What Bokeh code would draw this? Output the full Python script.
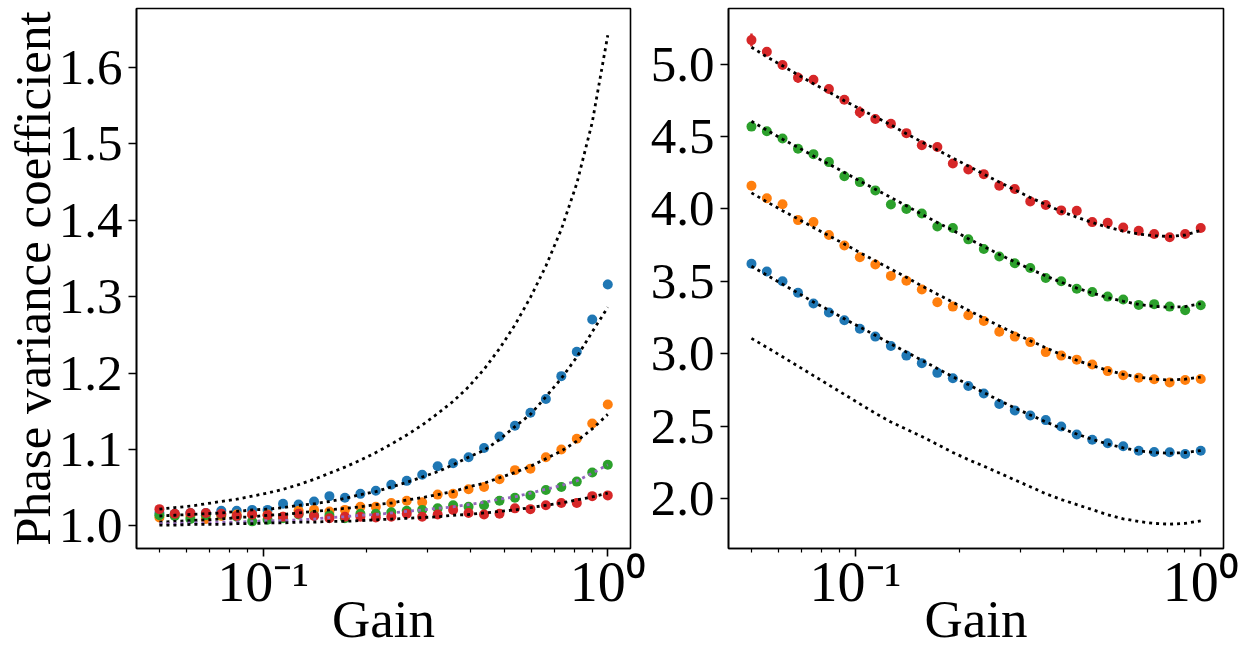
from bokeh.plotting import figure
from bokeh.layouts import row
from bokeh.models import Range1d, FixedTicker, PrintfTickFormatter
from bokeh.embed import file_html
from bokeh.resources import INLINE

# ---------------- data ----------------
gain = [0.0500, 0.0554, 0.0615, 0.0682, 0.0756, 0.0838, 0.0929, 0.1030, 0.1142, 0.1267,
        0.1405, 0.1557, 0.1727, 0.1915, 0.2123, 0.2354, 0.2610, 0.2894, 0.3209, 0.3558,
        0.3945, 0.4375, 0.4851, 0.5378, 0.5964, 0.6613, 0.7332, 0.8130, 0.9014, 1.0000]

# left panel
left_theory_top = [1.022, 1.024, 1.026, 1.029, 1.032, 1.035, 1.039, 1.043, 1.048, 1.054,
                   1.061, 1.069, 1.077, 1.086, 1.096, 1.107, 1.119, 1.132, 1.147, 1.163,
                   1.182, 1.205, 1.232, 1.263, 1.299, 1.340, 1.388, 1.448, 1.528, 1.642]
left_blue = [1.017, 1.016, 1.017, 1.017, 1.020, 1.020, 1.021, 1.021, 1.029, 1.028,
             1.032, 1.039, 1.037, 1.042, 1.046, 1.054, 1.059, 1.067, 1.078, 1.082,
             1.090, 1.102, 1.117, 1.131, 1.148, 1.166, 1.196, 1.228, 1.270, 1.316]
left_blue_theory = [1.013, 1.014, 1.015, 1.016, 1.017, 1.019, 1.021, 1.022, 1.024, 1.027,
                    1.029, 1.032, 1.036, 1.041, 1.045, 1.051, 1.057, 1.064, 1.071, 1.080,
                    1.090, 1.099, 1.113, 1.130, 1.146, 1.169, 1.193, 1.221, 1.254, 1.286]
left_orange = [1.011, 1.015, 1.013, 1.009, 1.013, 1.015, 1.015, 1.015, 1.012, 1.020,
               1.021, 1.019, 1.021, 1.025, 1.025, 1.030, 1.033, 1.031, 1.041, 1.042,
               1.048, 1.051, 1.061, 1.073, 1.075, 1.090, 1.100, 1.114, 1.134, 1.159]
left_orange_theory = [1.005, 1.006, 1.007, 1.008, 1.009, 1.011, 1.012, 1.014, 1.015, 1.017,
                      1.019, 1.021, 1.023, 1.025, 1.028, 1.030, 1.034, 1.037, 1.041, 1.045,
                      1.051, 1.056, 1.063, 1.070, 1.078, 1.088, 1.098, 1.111, 1.127, 1.146]
left_green = [1.014, 1.013, 1.009, 1.014, 1.015, 1.012, 1.006, 1.008, 1.010, 1.015,
              1.014, 1.014, 1.010, 1.016, 1.016, 1.018, 1.020, 1.021, 1.023, 1.027,
              1.025, 1.027, 1.033, 1.037, 1.040, 1.047, 1.051, 1.058, 1.070, 1.080]
left_green_theory = [1.003, 1.003, 1.004, 1.004, 1.005, 1.005, 1.006, 1.007, 1.007, 1.008,
                     1.009, 1.011, 1.012, 1.014, 1.015, 1.017, 1.019, 1.021, 1.023, 1.025,
                     1.028, 1.031, 1.035, 1.038, 1.043, 1.048, 1.053, 1.059, 1.069, 1.080]
left_red = [1.022, 1.016, 1.017, 1.017, 1.016, 1.013, 1.015, 1.014, 1.012, 1.016,
            1.013, 1.010, 1.012, 1.012, 1.011, 1.012, 1.016, 1.012, 1.015, 1.021,
            1.017, 1.015, 1.016, 1.023, 1.022, 1.027, 1.030, 1.030, 1.039, 1.040]
left_red_theory = [1.001, 1.001, 1.002, 1.002, 1.002, 1.003, 1.003, 1.004, 1.004, 1.005,
                   1.005, 1.006, 1.006, 1.007, 1.008, 1.009, 1.010, 1.011, 1.012, 1.014,
                   1.015, 1.017, 1.019, 1.021, 1.024, 1.027, 1.030, 1.034, 1.038, 1.043]
left_blue_err = [0] * 29 + [0.006]

# right panel
right_red = [5.165, 5.084, 4.993, 4.906, 4.891, 4.827, 4.753, 4.667, 4.620, 4.588,
             4.523, 4.440, 4.427, 4.314, 4.272, 4.240, 4.160, 4.138, 4.052, 4.027,
             3.990, 3.988, 3.909, 3.904, 3.872, 3.849, 3.827, 3.805, 3.827, 3.869]
right_red_theory = [5.116, 5.049, 4.988, 4.926, 4.864, 4.807, 4.746, 4.691, 4.635, 4.580,
                    4.519, 4.462, 4.407, 4.351, 4.296, 4.240, 4.185, 4.131, 4.079, 4.030,
                    3.983, 3.943, 3.906, 3.874, 3.847, 3.827, 3.815, 3.810, 3.820, 3.852]
right_green = [4.568, 4.536, 4.486, 4.415, 4.378, 4.323, 4.225, 4.185, 4.128, 4.030,
               4.000, 3.968, 3.879, 3.869, 3.790, 3.723, 3.672, 3.625, 3.593, 3.523,
               3.501, 3.449, 3.427, 3.395, 3.375, 3.338, 3.343, 3.326, 3.301, 3.336]
right_green_theory = [4.605, 4.543, 4.481, 4.425, 4.365, 4.309, 4.252, 4.193, 4.136, 4.079,
                      4.022, 3.963, 3.906, 3.852, 3.795, 3.741, 3.686, 3.635, 3.585, 3.538,
                      3.494, 3.454, 3.420, 3.388, 3.363, 3.341, 3.328, 3.321, 3.326, 3.346]
right_orange = [4.160, 4.074, 4.032, 3.923, 3.909, 3.820, 3.748, 3.667, 3.617, 3.538,
                3.504, 3.444, 3.356, 3.326, 3.267, 3.227, 3.153, 3.119, 3.081, 3.012,
                2.988, 2.960, 2.926, 2.881, 2.852, 2.835, 2.825, 2.802, 2.820, 2.827]
right_orange_theory = [4.111, 4.049, 3.988, 3.931, 3.872, 3.815, 3.758, 3.699, 3.642, 3.585,
                       3.528, 3.469, 3.412, 3.356, 3.301, 3.247, 3.193, 3.141, 3.091, 3.042,
                       2.995, 2.956, 2.919, 2.886, 2.859, 2.840, 2.825, 2.820, 2.825, 2.840]
right_blue = [3.622, 3.568, 3.501, 3.422, 3.348, 3.286, 3.232, 3.173, 3.119, 3.054,
              2.988, 2.936, 2.869, 2.832, 2.778, 2.726, 2.654, 2.610, 2.575, 2.543,
              2.499, 2.444, 2.407, 2.383, 2.363, 2.331, 2.323, 2.321, 2.309, 2.331]
right_blue_theory = [3.605, 3.543, 3.481, 3.420, 3.358, 3.301, 3.242, 3.185, 3.128, 3.069,
                     3.012, 2.956, 2.899, 2.842, 2.788, 2.733, 2.679, 2.627, 2.578, 2.531,
                     2.486, 2.447, 2.410, 2.378, 2.351, 2.331, 2.319, 2.314, 2.319, 2.333]
right_base_theory = [3.107, 3.045, 2.980, 2.915, 2.850, 2.785, 2.720, 2.655, 2.590, 2.530,
                     2.480, 2.430, 2.375, 2.320, 2.270, 2.225, 2.178, 2.130, 2.083, 2.035,
                     1.995, 1.960, 1.925, 1.890, 1.862, 1.843, 1.830, 1.825, 1.830, 1.848]
right_red_err = [0.045, 0, 0.02, 0.035, 0, 0, 0, 0.04, 0, 0,
                 0, 0, 0, 0.03, 0, 0, 0, 0, 0, 0,
                 0, 0, 0, 0, 0, 0, 0, 0, 0, 0]
right_green_err = [0.03, 0, 0, 0, 0.025] + [0] * 25

x_major = [0.1, 1.0]
x_minor = [0.05, 0.06, 0.07, 0.08, 0.09, 0.2, 0.3, 0.4, 0.5, 0.6, 0.7, 0.8, 0.9]
x_labels = {0.1: "10\u207b\u00b9", 1.0: "10\u2070"}
left_yticks = [1.0, 1.1, 1.2, 1.3, 1.4, 1.5, 1.6]
right_yticks = [2.0, 2.5, 3.0, 3.5, 4.0, 4.5, 5.0]

# ---------------- style ----------------
FONT = "Liberation Serif"
BLUE, ORANGE, GREEN, RED, PURPLE = "#1f77b4", "#ff7f0e", "#2ca02c", "#d62728", "#9467bd"
DOT = "3 4"


def make_fig(yrange, yticks, border_left, border_right, ylabel=None, frame_w=494):
    p = figure(output_backend="svg", toolbar_location=None, x_axis_type="log",
               x_range=Range1d(0.0429, 1.164), y_range=Range1d(*yrange),
               frame_width=frame_w, frame_height=540,
               min_border_left=border_left, min_border_right=border_right,
               min_border_top=8, min_border_bottom=0)
    p.grid.visible = False
    p.outline_line_color = "black"
    p.outline_line_width = 1.6
    p.outline_line_alpha = 1.0
    p.background_fill_color = "white"
    p.border_fill_color = "white"

    p.xaxis.ticker = FixedTicker(ticks=x_major, minor_ticks=x_minor)
    p.xaxis.major_label_overrides = x_labels
    p.yaxis.ticker = FixedTicker(ticks=yticks)
    p.yaxis.formatter = PrintfTickFormatter(format="%.1f")
    for ax in (p.xaxis[0], p.yaxis[0]):
        ax.axis_line_color = "black"
        ax.axis_line_width = 1.6
        ax.major_tick_line_color = "black"
        ax.major_tick_line_width = 1.6
        ax.major_tick_out = 8
        ax.major_tick_in = 0
        ax.minor_tick_line_color = "black"
        ax.minor_tick_line_width = 1.2
        ax.minor_tick_out = 4
        ax.minor_tick_in = 0
        ax.major_label_text_font = FONT
        ax.major_label_text_color = "black"
        ax.axis_label_text_font = FONT
        ax.axis_label_text_font_style = "normal"
        ax.axis_label_text_color = "black"
        ax.axis_label_text_font_size = "53px"
    p.yaxis.minor_tick_line_color = None
    p.yaxis.major_label_text_font_size = "51px"
    p.yaxis.major_label_standoff = 6
    p.xaxis.major_label_text_font_size = "56px"
    p.xaxis.major_label_standoff = -6
    p.xaxis.axis_label = "Gain"
    p.xaxis.axis_label_standoff = -26
    if ylabel:
        p.yaxis.axis_label = ylabel
        p.yaxis.axis_label_text_font_size = "51px"
        p.yaxis.axis_label_standoff = -5
    return p


def dotted(p, y, color="black"):
    p.line(gain, y, line_color=color, line_width=2.8, line_dash=DOT, line_cap="butt")


def points(p, y, color, err=None):
    if err is not None:
        lo = [v - e for v, e in zip(y, err)]
        hi = [v + e for v, e in zip(y, err)]
        p.segment(x0=gain, y0=lo, x1=gain, y1=hi, line_color=color, line_width=2.5)
    p.scatter(gain, y, size=10, fill_color=color, line_color=color, line_width=0)


# left panel
p1 = make_fig((0.9705, 1.677), left_yticks, 136, 16, ylabel="Phase variance coefficient")
points(p1, left_blue, BLUE, left_blue_err)
points(p1, left_orange, ORANGE)
points(p1, left_green, GREEN)
points(p1, left_red, RED)
dotted(p1, left_theory_top)
dotted(p1, left_blue_theory)
dotted(p1, left_orange_theory)
dotted(p1, left_green_theory, PURPLE)
dotted(p1, left_red_theory)

# right panel
p2 = make_fig((1.657, 5.383), right_yticks, 82, 16, frame_w=495)
points(p2, right_blue, BLUE)
points(p2, right_orange, ORANGE)
points(p2, right_green, GREEN, right_green_err)
points(p2, right_red, RED, right_red_err)
dotted(p2, right_base_theory)
dotted(p2, right_blue_theory)
dotted(p2, right_orange_theory)
dotted(p2, right_green_theory)
dotted(p2, right_red_theory)

layout = row(p1, p2)
open("out.html", "w").write(file_html(layout, INLINE))
